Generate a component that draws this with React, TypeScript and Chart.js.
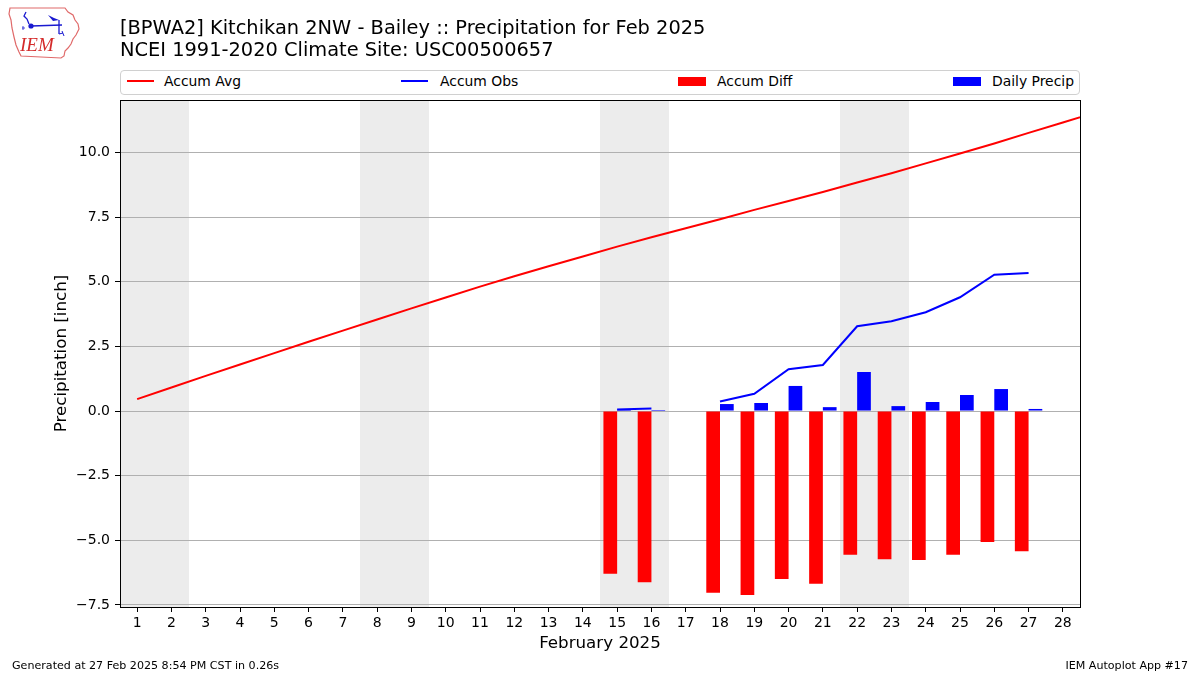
import React, { useEffect, useRef } from 'react';
import { Chart, registerables } from 'chart.js';

Chart.register(...registerables);

// ---------- text ----------
const titleLine1 = '[BPWA2] Kitchikan 2NW - Bailey :: Precipitation for Feb 2025';
const titleLine2 = 'NCEI 1991-2020 Climate Site: USC00500657';
const xAxisTitle = 'February 2025';
const yAxisTitle = 'Precipitation [inch]';
const footerLeft = 'Generated at 27 Feb 2025 8:54 PM CST in 0.26s';
const footerRight = 'IEM Autoplot App #17';
const legendLabels = ['Accum Avg', 'Accum Obs', 'Accum Diff', 'Daily Precip'];

// ---------- data ----------
const xTicks = [1, 2, 3, 4, 5, 6, 7, 8, 9, 10, 11, 12, 13, 14, 15, 16, 17, 18, 19, 20, 21, 22, 23, 24, 25, 26, 27, 28];
const yTicks = [-7.5, -5.0, -2.5, 0.0, 2.5, 5.0, 7.5, 10.0];

// climatology accumulation (day 29 = 1 Mar, clipped at the right edge)
const avgDays = [1, 2, 3, 4, 5, 6, 7, 8, 9, 10, 11, 12, 13, 14, 15, 16, 17, 18, 19, 20, 21, 22, 23, 24, 25, 26, 27, 28, 29];
const accumAvg = [0.46, 0.91, 1.36, 1.80, 2.24, 2.68, 3.11, 3.54, 3.97, 4.39, 4.81, 5.21, 5.60, 5.98, 6.36, 6.72, 7.07, 7.42, 7.78, 8.12, 8.47, 8.84, 9.20, 9.58, 9.96, 10.35, 10.76, 11.16, 11.56];

const obsDays = [15, 16, 17, 18, 19, 20, 21, 22, 23, 24, 25, 26, 27];
const accumObs = [0.06, 0.10, null, 0.37, 0.67, 1.62, 1.78, 3.28, 3.47, 3.82, 4.40, 5.27, 5.34];
const accumDiff = [-6.29, -6.62, null, -7.03, -7.12, -6.50, -6.68, -5.56, -5.73, -5.76, -5.56, -5.07, -5.42];
const dailyPrecip = [0.06, 0.04, null, 0.27, 0.31, 0.97, 0.15, 1.51, 0.19, 0.35, 0.62, 0.85, 0.08];

// weekend spans (first and last day of each Sat-Sun pair)
const weekendStart = [1, 8, 15, 22];
const weekendEnd = [2, 9, 16, 23];

const FONT = "'DejaVu Sans', sans-serif";
const RED = '#ff0000';
const BLUE = '#0000ff';

const fmtY = (v: number) => (v < 0 ? '\u2212' + Math.abs(v).toFixed(1) : v.toFixed(1));

const weekendPlugin = {
  id: 'weekendBands',
  beforeDraw(chart: any) {
    const { ctx, chartArea, scales } = chart;
    const xs = scales.x;
    ctx.save();
    ctx.fillStyle = '#ececec';
    weekendStart.forEach((s, i) => {
      const x0 = Math.round(Math.max(chartArea.left, xs.getPixelForValue(s - 0.5)));
      const x1 = Math.round(Math.min(chartArea.right, xs.getPixelForValue(weekendEnd[i] + 0.5)));
      ctx.fillRect(x0, chartArea.top, x1 - x0, chartArea.bottom - chartArea.top);
    });
    ctx.restore();
  },
  afterDraw(chart: any) {
    const { ctx, chartArea } = chart;
    ctx.save();
    ctx.strokeStyle = '#000';
    ctx.lineWidth = 1;
    ctx.strokeRect(
      Math.round(chartArea.left) + 0.5,
      Math.round(chartArea.top) + 0.5,
      Math.round(chartArea.right - chartArea.left),
      Math.round(chartArea.bottom - chartArea.top)
    );
    ctx.restore();
  },
};

function Logo() {
  return (
    <svg width={74} height={56} style={{ position: 'absolute', left: 7, top: 4 }} viewBox="0 0 74 56">
      <path
        d="M3 4 L58 4 L61 8 L66 11 L68 16 L71 20 L72 25 L69 31 L66 35 L64 40 L61 44 L58 47 L57 52 L54 54 L14 52 L12 48 L9 41 L7 33 L5 24 L4 16 L2 10 Z"
        fill="none"
        stroke="#e06a6a"
        strokeWidth={1.2}
      />
      <path d="M19 8 L17 12 L20 15 L22 20" fill="none" stroke="#1a1ad0" strokeWidth={1.3} />
      <circle cx={24} cy={22} r={2.6} fill="#1a1ad0" />
      <line x1={24} y1={22} x2={55} y2={21} stroke="#1a1ad0" strokeWidth={1.6} />
      <path d="M41 11 L47 14 L52 16 L46 17 Z" fill="#1a1ad0" />
      <line x1={52} y1={16} x2={52} y2={30} stroke="#1a1ad0" strokeWidth={1.3} />
      <path d="M52 30 L56 29 M55 27 L57 32" stroke="#1a1ad0" strokeWidth={1} />
      <path d="M15 24 L18 24 M16 22 L16 26" stroke="#1a1ad0" strokeWidth={0.8} />
      <text x={13} y={47} fill="#d42a2a" fontFamily="'Liberation Serif', 'DejaVu Serif', serif" fontStyle="italic" fontSize={19}>
        IEM
      </text>
    </svg>
  );
}

export default function App() {
  const canvasRef = useRef<HTMLCanvasElement | null>(null);

  useEffect(() => {
    if (!canvasRef.current) return;
    const chart = new Chart(canvasRef.current, {
      type: 'bar',
      data: {
        datasets: [
          {
            type: 'line',
            label: legendLabels[0],
            data: avgDays.map((d, i) => ({ x: d, y: accumAvg[i] })),
            borderColor: RED,
            backgroundColor: RED,
            borderWidth: 2,
            pointRadius: 0,
            tension: 0,
          } as any,
          {
            type: 'line',
            label: legendLabels[1],
            data: obsDays.map((d, i) => ({ x: d, y: accumObs[i] })),
            borderColor: BLUE,
            backgroundColor: BLUE,
            borderWidth: 2,
            pointRadius: 0,
            tension: 0,
            spanGaps: false,
          } as any,
          {
            type: 'bar',
            label: legendLabels[2],
            data: obsDays.map((d, i) => ({ x: d, y: accumDiff[i] })),
            backgroundColor: RED,
            borderWidth: 0,
            barPercentage: 1.0,
            categoryPercentage: 0.8,
          } as any,
          {
            type: 'bar',
            label: legendLabels[3],
            data: obsDays.map((d, i) => ({ x: d, y: dailyPrecip[i] })),
            backgroundColor: BLUE,
            borderWidth: 0,
            barPercentage: 1.0,
            categoryPercentage: 0.8,
          } as any,
        ],
      },
      options: {
        responsive: false,
        animation: false,
        devicePixelRatio: 1,
        layout: { padding: { top: 100, right: 120, left: 0, bottom: 0 } },
        plugins: {
          legend: { display: false },
          tooltip: { enabled: false },
          title: { display: false },
        },
        scales: {
          x: {
            type: 'linear',
            min: 0.5,
            max: 28.5,
            offset: false,
            afterBuildTicks: (s: any) => {
              s.ticks = xTicks.map((v) => ({ value: v }));
            },
            afterFit: (s: any) => {
              s.height = 68;
            },
            grid: {
              display: true,
              offset: false,
              drawOnChartArea: false,
              drawTicks: true,
              tickLength: 5,
              tickColor: '#000',
              lineWidth: 1,
            },
            border: { display: false },
            ticks: {
              color: '#000',
              font: { family: FONT, size: 14 },
              padding: 3,
              maxRotation: 0,
              autoSkip: false,
              callback: (v: any) => String(v),
            },
            title: {
              display: true,
              text: xAxisTitle,
              color: '#000',
              font: { family: FONT, size: 16.7 },
              padding: { top: 0, bottom: 21 },
            },
          },
          y: {
            type: 'linear',
            min: -7.58,
            max: 12.03,
            afterBuildTicks: (s: any) => {
              s.ticks = yTicks.map((v) => ({ value: v }));
            },
            afterFit: (s: any) => {
              s.width = 120;
            },
            grid: {
              color: '#b0b0b0',
              lineWidth: 1,
              drawTicks: true,
              tickLength: 5,
              tickColor: '#000',
            },
            border: { display: false },
            ticks: {
              color: '#000',
              font: { family: FONT, size: 14 },
              padding: 5,
              callback: (v: any) => fmtY(Number(v)),
            },
            title: {
              display: true,
              text: yAxisTitle,
              color: '#000',
              font: { family: FONT, size: 16.7 },
              padding: { top: 52, bottom: 0 },
            },
          },
        },
      } as any,
      plugins: [weekendPlugin],
    });
    return () => chart.destroy();
  }, []);

  const textBase: React.CSSProperties = {
    position: 'absolute',
    fontFamily: FONT,
    color: '#000',
    whiteSpace: 'nowrap',
  };

  const legendItems = [
    { label: legendLabels[0], kind: 'line', color: RED, hx: 127, tx: 164 },
    { label: legendLabels[1], kind: 'line', color: BLUE, hx: 401, tx: 440 },
    { label: legendLabels[2], kind: 'rect', color: RED, hx: 678, tx: 717 },
    { label: legendLabels[3], kind: 'rect', color: BLUE, hx: 953, tx: 992 },
  ];

  return (
    <div
      style={{
        position: 'absolute',
        left: 0,
        top: 0,
        width: 1200,
        height: 675,
        background: '#fff',
        overflow: 'hidden',
      }}
    >
      <canvas ref={canvasRef} width={1200} height={675} style={{ position: 'absolute', left: 0, top: 0, width: 1200, height: 675 }} />
      <Logo />
      <div style={{ ...textBase, left: 120, top: 17, fontSize: 19.4, lineHeight: '22px' }}>{titleLine1}</div>
      <div style={{ ...textBase, left: 120, top: 39, fontSize: 19.4, lineHeight: '22px' }}>{titleLine2}</div>

      <div
        style={{
          position: 'absolute',
          left: 120,
          top: 70,
          width: 960,
          height: 25,
          boxSizing: 'border-box',
          border: '1px solid #d0d0d0',
          borderRadius: 4,
          background: '#fff',
        }}
      />
      {legendItems.map((it) => (
        <React.Fragment key={it.label}>
          {it.kind === 'line' ? (
            <div style={{ position: 'absolute', left: it.hx, top: 80, width: 27, height: 2, background: it.color }} />
          ) : (
            <div style={{ position: 'absolute', left: it.hx, top: 77, width: 28, height: 9, background: it.color }} />
          )}
          <div style={{ ...textBase, left: it.tx, top: 73, fontSize: 13.9, lineHeight: '16px' }}>{it.label}</div>
        </React.Fragment>
      ))}

      <div style={{ ...textBase, left: 12, top: 659, fontSize: 11.1, lineHeight: '13px' }}>{footerLeft}</div>
      <div style={{ ...textBase, right: 12, top: 659, fontSize: 11.1, lineHeight: '13px', textAlign: 'right' }}>{footerRight}</div>
    </div>
  );
}
